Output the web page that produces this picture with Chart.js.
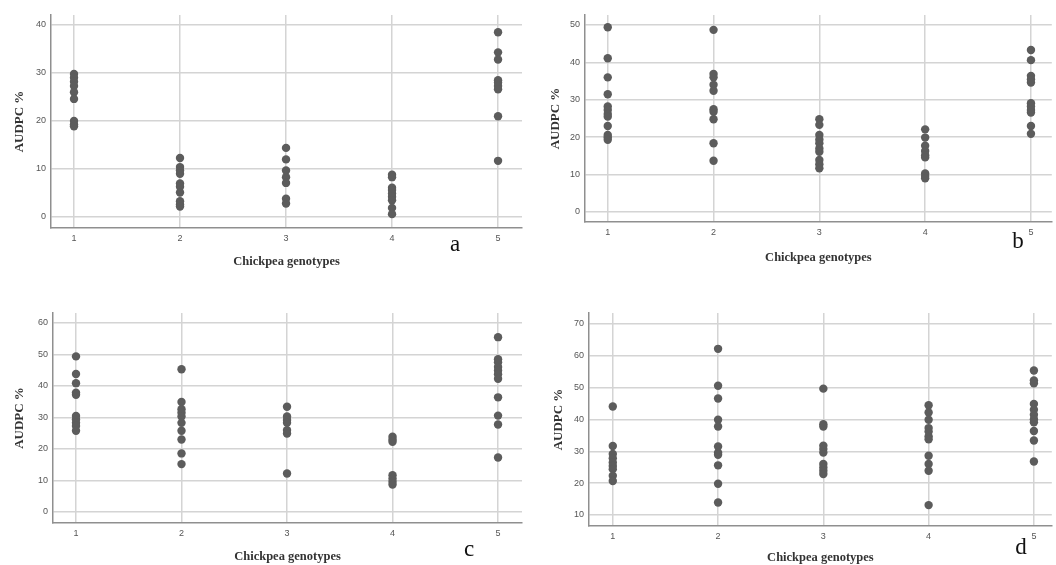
<!DOCTYPE html>
<html>
<head>
<meta charset="utf-8">
<script src="https://cdn.jsdelivr.net/npm/chart.js@4/dist/chart.umd.min.js"></script>
<style>
    html, body { margin: 0; padding: 0; background: #fff; }
    #wrap { position: relative; width: 1056px; height: 565px; overflow: hidden; }
    canvas { position: absolute; }
</style>
</head>
<body>
<div id="wrap">
    <canvas id="chartA" width="528" height="280" style="left:0;top:0"></canvas>
    <canvas id="chartB" width="528" height="280" style="left:528px;top:0"></canvas>
    <canvas id="chartC" width="528" height="285" style="left:0;top:280px"></canvas>
    <canvas id="chartD" width="528" height="285" style="left:528px;top:280px"></canvas>
</div>
<script>
// genotypes on the x axis
const genotypes = [1, 2, 3, 4, 5];

// AUDPC % per genotype, one list per panel
const audpcA = [
    [29.8, 29.0, 28.2, 27.3, 26.0, 24.6, 20.0, 19.3, 18.9],
    [12.3, 10.4, 9.7, 9.0, 7.0, 6.3, 5.1, 3.3, 2.6, 2.2],
    [14.4, 12.0, 9.7, 8.3, 7.1, 3.8, 2.8],
    [8.8, 8.3, 6.1, 5.6, 4.9, 4.2, 3.5, 1.9, 0.6],
    [38.5, 34.3, 32.8, 28.5, 28.0, 27.3, 26.6, 21.0, 11.7]
];
const audpcB = [
    [49.4, 41.1, 36.0, 31.5, 28.2, 27.3, 26.2, 25.5, 23.0, 20.6, 20.0, 19.3],
    [48.7, 36.9, 36.0, 34.0, 32.4, 27.5, 26.8, 24.8, 18.4, 13.7],
    [24.8, 23.3, 20.6, 19.4, 18.4, 17.0, 16.1, 13.9, 12.8, 11.7],
    [22.1, 19.9, 17.7, 16.3, 15.2, 14.6, 10.3, 9.6, 9.0],
    [43.3, 40.6, 36.4, 35.5, 34.6, 29.1, 28.2, 27.3, 26.6, 23.0, 20.9]
];
const audpcC = [
    [49.4, 43.8, 40.9, 37.9, 37.2, 30.5, 29.4, 28.3, 27.3, 25.8],
    [45.3, 34.9, 32.6, 31.5, 30.3, 28.3, 25.8, 23.0, 18.6, 15.2],
    [33.4, 30.3, 29.2, 28.3, 26.0, 24.9, 12.2],
    [23.9, 23.0, 22.3, 11.7, 10.6, 9.6, 8.7],
    [55.5, 48.5, 47.5, 46.0, 44.9, 43.7, 42.3, 36.4, 30.6, 27.8, 17.3]
];
const audpcD = [
    [44.1, 31.7, 29.2, 27.8, 26.5, 25.4, 24.4, 22.3, 20.7],
    [62.2, 50.6, 46.6, 39.9, 37.8, 31.5, 29.6, 28.9, 25.6, 19.8, 13.9],
    [49.7, 38.5, 37.8, 31.8, 30.7, 29.6, 26.0, 24.9, 23.9, 22.9],
    [44.5, 42.2, 39.9, 37.3, 36.2, 34.7, 33.8, 28.6, 26.0, 23.9, 13.1],
    [55.4, 52.3, 51.4, 44.9, 43.1, 41.5, 40.1, 39.1, 36.4, 33.4, 26.8]
];

// y tick labels per panel
const yTicksA = [0, 10, 20, 30, 40];
const yTicksB = [0, 10, 20, 30, 40, 50];
const yTicksC = [0, 10, 20, 30, 40, 50, 60];
const yTicksD = [10, 20, 30, 40, 50, 60, 70];

const xTitle = 'Chickpea genotypes';
const yTitle = 'AUDPC %';
const panelLetters = ['a', 'b', 'c', 'd'];

const gridColor = '#d4d4d4';
const axisColor = '#8f8f8f';
const pointColor = '#5c5c5c';

// draws the panel letter (a, b, c, d)
const letterPlugin = {
    id: 'panelLetter',
    afterDraw(chart, args, opts) {
        const ctx = chart.ctx;
        ctx.save();
        ctx.font = '23px "Liberation Serif", serif';
        ctx.fillStyle = '#111';
        ctx.textAlign = 'center';
        ctx.textBaseline = 'middle';
        ctx.fillText(opts.text, opts.x, opts.y);
        ctx.restore();
    }
};

function toPoints(groups) {
    const pts = [];
    groups.forEach(function(vals, i) {
        vals.forEach(function(v) {
            pts.push({x: genotypes[i], y: v});
        });
    });
    return pts;
}

function makeChart(id, groups, yTicks, p) {
    const config = {
        type: 'scatter',
        data: {
            datasets: [{
                data: toPoints(groups),
                pointRadius: 4.2,
                pointHoverRadius: 4.2,
                pointBackgroundColor: pointColor,
                pointBorderColor: pointColor,
                pointBorderWidth: 0
            }]
        },
        options: {
            responsive: false,
            animation: false,
            layout: {
                padding: {top: p.top, right: p.right, left: 0, bottom: 0}
            },
            plugins: {
                legend: {display: false},
                tooltip: {enabled: false},
                panelLetter: {text: p.letter, x: p.lx, y: p.ly}
            },
            scales: {
                x: {
                    type: 'linear',
                    min: p.xmin,
                    max: p.xmax,
                    afterBuildTicks: function(scale) {
                        scale.ticks = genotypes.map(function(v) { return {value: v}; });
                    },
                    afterFit: function(scale) { scale.height = p.xh; },
                    grid: {color: gridColor, lineWidth: 1.5, drawTicks: false},
                    border: {color: axisColor, width: 1.5},
                    ticks: {
                        padding: 5,
                        color: '#555',
                        font: {family: '"Liberation Sans", Arial, sans-serif', size: 9}
                    },
                    title: {
                        display: true,
                        text: xTitle,
                        color: '#333',
                        padding: {top: 0, bottom: p.xtp},
                        font: {family: '"Liberation Serif", serif', size: 12.5, weight: 'bold'}
                    }
                },
                y: {
                    type: 'linear',
                    min: p.ymin,
                    max: p.ymax,
                    afterBuildTicks: function(scale) {
                        scale.ticks = yTicks.map(function(v) { return {value: v}; });
                    },
                    afterFit: function(scale) { scale.width = p.yw; },
                    grid: {color: gridColor, lineWidth: 1.5, drawTicks: false},
                    border: {color: axisColor, width: 1.5},
                    ticks: {
                        padding: 5,
                        color: '#555',
                        font: {family: '"Liberation Sans", Arial, sans-serif', size: 9}
                    },
                    title: {
                        display: true,
                        text: yTitle,
                        color: '#333',
                        padding: {top: p.ytp, bottom: 0},
                        font: {family: '"Liberation Serif", serif', size: 13, weight: 'bold'}
                    }
                }
            }
        },
        plugins: [letterPlugin]
    };
    return new Chart(document.getElementById(id).getContext('2d'), config);
}

(function(){
    makeChart('chartA', audpcA, yTicksA, {
        top: 15, right: 6, yw: 51, xh: 52, xmin: 0.783, xmax: 5.226, ymin: -2.29, ymax: 42.08,
        xtp: 10.5, ytp: 12.2, letter: panelLetters[0], lx: 455, ly: 245
    });
    makeChart('chartB', audpcB, yTicksB, {
        top: 15, right: 0, yw: 57, xh: 58, xmin: 0.785, xmax: 5.197, ymin: -2.67, ymax: 52.67,
        xtp: 14.5, ytp: 20.2, letter: panelLetters[1], lx: 490, ly: 242
    });
    makeChart('chartC', audpcC, yTicksC, {
        top: 33, right: 6, yw: 53, xh: 42, xmin: 0.782, xmax: 5.227, ymin: -3.49, ymax: 63.17,
        xtp: 0.5, ytp: 12.2, letter: panelLetters[2], lx: 469, ly: 270
    });
    makeChart('chartD', audpcD, yTicksD, {
        top: 33, right: 0, yw: 61, xh: 39, xmin: 0.774, xmax: 5.17, ymin: 6.54, ymax: 73.46,
        xtp: 0, ytp: 23.2, letter: panelLetters[3], lx: 493, ly: 268
    });
})();
</script>
</body>
</html>
